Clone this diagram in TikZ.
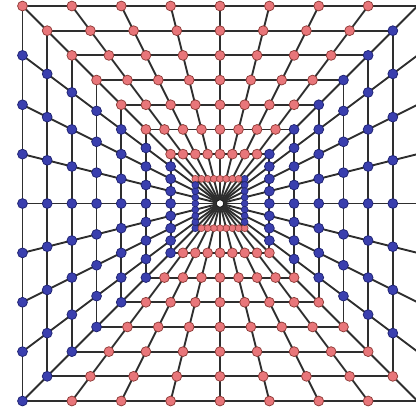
\documentclass[tikz,border=0pt]{standalone}
\usetikzlibrary{backgrounds}
\definecolor{nred}{HTML}{E8767A}
\definecolor{nredb}{HTML}{8E3A36}
\definecolor{nblue}{HTML}{3A3FAE}
\definecolor{nblueb}{HTML}{1E2270}
\definecolor{wire}{HTML}{2E2E2E}
\tikzset{
  pt/.style={circle, inner sep=0pt, minimum size=7.4pt, line width=0.55pt},
  small/.style={minimum size=5.2pt, line width=0.4pt},
  rednode/.style={pt, fill=nred, draw=nredb},
  bluenode/.style={pt, fill=nblue, draw=nblueb},
  hub/.style={circle, inner sep=0pt, minimum size=5.5pt, fill=white, draw=black, line width=0.4pt},
  wireline/.style={draw=wire, line width=1.4pt},
}
\begin{document}
\begin{tikzpicture}[x=0.75pt,y=0.75pt]
\useasboundingbox (-220,-204.5) rectangle (196,203.5);
\clip (-220,-204.5) rectangle (196,203.5);
\def\L{197.5}
\begin{scope}
\clip (-220,-204.5) rectangle (191.5,203.5);
\node[hub] (c) at (0,0) {};
\foreach \k in {1,...,8}{
  \pgfmathsetmacro{\s}{\k*\L/8}
  \ifnum\k=1 \def\extra{small}\else\def\extra{}\fi
  \foreach \j in {0,...,7}{
    \pgfmathsetmacro{\d}{\j*\s/4}
    \pgfmathtruncatemacro{\ia}{\j}
    \pgfmathtruncatemacro{\ib}{\j+8}
    \pgfmathtruncatemacro{\ic}{\j+16}
    \pgfmathtruncatemacro{\id}{\j+24}
    \node[rednode,\extra]  (n-\k-\ia) at ({-\s+\d},{\s}) {};
    \node[bluenode,\extra] (n-\k-\ib) at ({\s},{\s-\d}) {};
    \node[rednode,\extra]  (n-\k-\ic) at ({\s-\d},{-\s}) {};
    \node[bluenode,\extra] (n-\k-\id) at ({-\s},{-\s+\d}) {};
  }
}
\node[hub] (c2) at (0,0) {};
\end{scope}
\begin{scope}[on background layer]
  \foreach \i in {0,...,31}{
    \draw[wireline] (c.center) -- (n-8-\i.center);
  }
  \foreach \k in {1,...,8}{
    \foreach \i in {0,...,31}{
      \pgfmathtruncatemacro{\nx}{mod(\i+1,32)}
      \draw[wireline] (n-\k-\i.center) -- (n-\k-\nx.center);
    }
  }
\end{scope}
\end{tikzpicture}
\end{document}
